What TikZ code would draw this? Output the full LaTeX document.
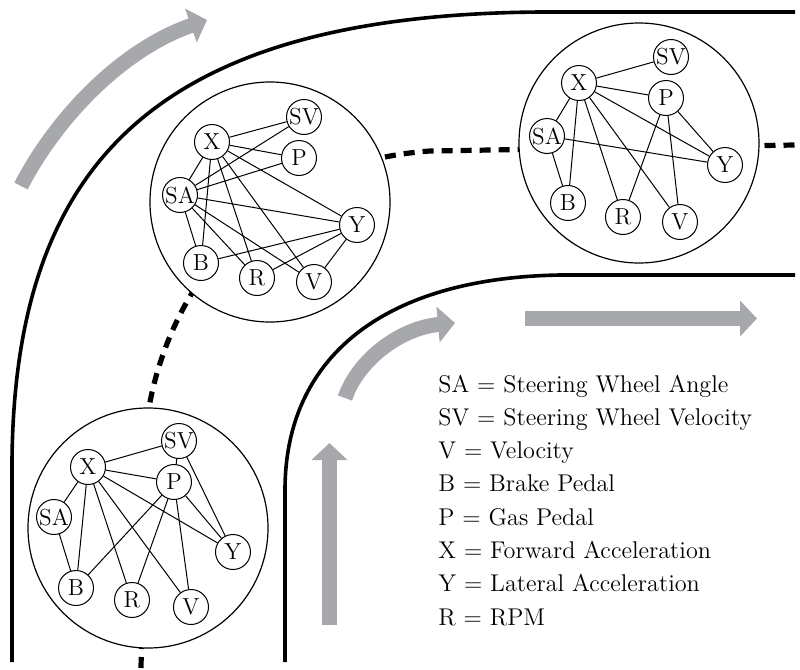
\documentclass[tikz,border=0pt]{standalone}
\usetikzlibrary{arrows.meta}
\definecolor{arrowgray}{RGB}{166,168,171}
\begin{document}
\begin{tikzpicture}[x=0.5pt,y=-0.5pt,
  road/.style={line width=1.8pt},
  midline/.style={line width=2.6pt, dash pattern=on 5.5pt off 4pt},
  flow/.style={draw=arrowgray, line width=7.5pt, -{Triangle[width=17.5pt,length=8.5pt]}},
  cluster/.style={circle, draw, fill=white, line width=0.6pt, minimum size=120pt, inner sep=0pt},
  var/.style={circle, draw, fill=white, line width=0.5pt, minimum size=17.5pt, inner sep=0pt, font=\fontsize{11.6}{13}\selectfont},
  edge/.style={line width=0.5pt},
  legend/.style={anchor=base west, inner sep=0pt, font=\fontsize{12.1}{14}\selectfont}]
\useasboundingbox (0,0) rectangle (800,670);

% road borders
\draw[road] (12,662) -- (12,460) .. controls (15,160) and (160,15) .. (540,12) -- (795,12);
\draw[road] (285,662) -- (285,490) .. controls (285,360) and (380,278) .. (560,275) -- (795,275);
% road centre line
\draw[midline] (141,668) -- (146,430) .. controls (155,330) and (230,165) .. (430,151) -- (795,145);

% gray motion arrows
\coordinate (a1s) at (21,186);   \coordinate (a1e) at (207,20);
\coordinate (a2s) at (345,398);  \coordinate (a2e) at (455,323);
\coordinate (a3s) at (329.5,625); \coordinate (a3e) at (329.5,443);
\coordinate (a4s) at (525,318.5); \coordinate (a4e) at (757,318.5);
\draw[flow] (a1s) .. controls (55,120) and (120,50) .. (a1e);
\draw[flow] (a2s) .. controls (358,360) and (400,328) .. (a2e);
\draw[flow] (a3s) -- (a3e);
\draw[flow] (a4s) -- (a4e);

% ---------- bottom graph ----------
\node[cluster] (cA) at (148,528) {};
\node[var] (A-SV) at (179,441) {SV};
\node[var] (A-X)  at (88,467)  {X};
\node[var] (A-P)  at (174,482) {P};
\node[var] (A-SA) at (54,517)  {SA};
\node[var] (A-Y)  at (233,552) {Y};
\node[var] (A-B)  at (76,588)  {B};
\node[var] (A-R)  at (132,600) {R};
\node[var] (A-V)  at (191,607) {V};
\draw[edge] (A-X) -- (A-SV);
\draw[edge] (A-X) -- (A-P);
\draw[edge] (A-X) -- (A-SA);
\draw[edge] (A-X) -- (A-B);
\draw[edge] (A-X) -- (A-R);
\draw[edge] (A-X) -- (A-V);
\draw[edge] (A-X) -- (A-Y);
\draw[edge] (A-SA) -- (A-B);
\draw[edge] (A-SV) -- (A-P);
\draw[edge] (A-SV) -- (A-Y);
\draw[edge] (A-P) -- (A-B);
\draw[edge] (A-P) -- (A-R);
\draw[edge] (A-P) -- (A-V);
\draw[edge] (A-P) -- (A-Y);

% ---------- middle graph ----------
\node[cluster] (cB) at (270,202) {};
\node[var] (B-SV) at (304,117) {SV};
\node[var] (B-X)  at (212,142) {X};
\node[var] (B-P)  at (299,158) {P};
\node[var] (B-SA) at (180,195) {SA};
\node[var] (B-Y)  at (357,225) {Y};
\node[var] (B-B)  at (201,263) {B};
\node[var] (B-R)  at (257,278) {R};
\node[var] (B-V)  at (314,282) {V};
\draw[edge] (B-X) -- (B-SV);
\draw[edge] (B-X) -- (B-P);
\draw[edge] (B-X) -- (B-SA);
\draw[edge] (B-X) -- (B-B);
\draw[edge] (B-X) -- (B-R);
\draw[edge] (B-X) -- (B-V);
\draw[edge] (B-X) -- (B-Y);
\draw[edge] (B-SA) -- (B-SV);
\draw[edge] (B-SA) -- (B-P);
\draw[edge] (B-SA) -- (B-Y);
\draw[edge] (B-SA) -- (B-B);
\draw[edge] (B-SA) -- (B-R);
\draw[edge] (B-SA) -- (B-V);
\draw[edge] (B-B) -- (B-Y);
\draw[edge] (B-R) -- (B-Y);
\draw[edge] (B-V) -- (B-Y);

% ---------- upper-right graph ----------
\node[cluster] (cC) at (639,143) {};
\node[var] (C-SV) at (671,57)  {SV};
\node[var] (C-X)  at (579,83)  {X};
\node[var] (C-P)  at (666,98)  {P};
\node[var] (C-SA) at (547,136) {SA};
\node[var] (C-Y)  at (725,165) {Y};
\node[var] (C-B)  at (568,203) {B};
\node[var] (C-R)  at (623,217) {R};
\node[var] (C-V)  at (680,222) {V};
\draw[edge] (C-X) -- (C-SV);
\draw[edge] (C-X) -- (C-P);
\draw[edge] (C-X) -- (C-SA);
\draw[edge] (C-X) -- (C-B);
\draw[edge] (C-X) -- (C-R);
\draw[edge] (C-X) -- (C-V);
\draw[edge] (C-X) -- (C-Y);
\draw[edge] (C-SA) -- (C-B);
\draw[edge] (C-SA) -- (C-Y);
\draw[edge] (C-P) -- (C-R);
\draw[edge] (C-P) -- (C-V);
\draw[edge] (C-P) -- (C-Y);

% ---------- legend ----------
\node[legend] (l1) at (438,392)   {SA $=$ Steering Wheel Angle};
\node[legend] (l2) at (438,425.3) {SV $=$ Steering Wheel Velocity};
\node[legend] (l3) at (438,458.6) {V $=$ Velocity};
\node[legend] (l4) at (438,491.9) {B $=$ Brake Pedal};
\node[legend] (l5) at (438,525.2) {P $=$ Gas Pedal};
\node[legend] (l6) at (438,558.5) {X $=$ Forward Acceleration};
\node[legend] (l7) at (438,591.8) {Y $=$ Lateral Acceleration};
\node[legend] (l8) at (438,625)   {R $=$ RPM};
\end{tikzpicture}
\end{document}
